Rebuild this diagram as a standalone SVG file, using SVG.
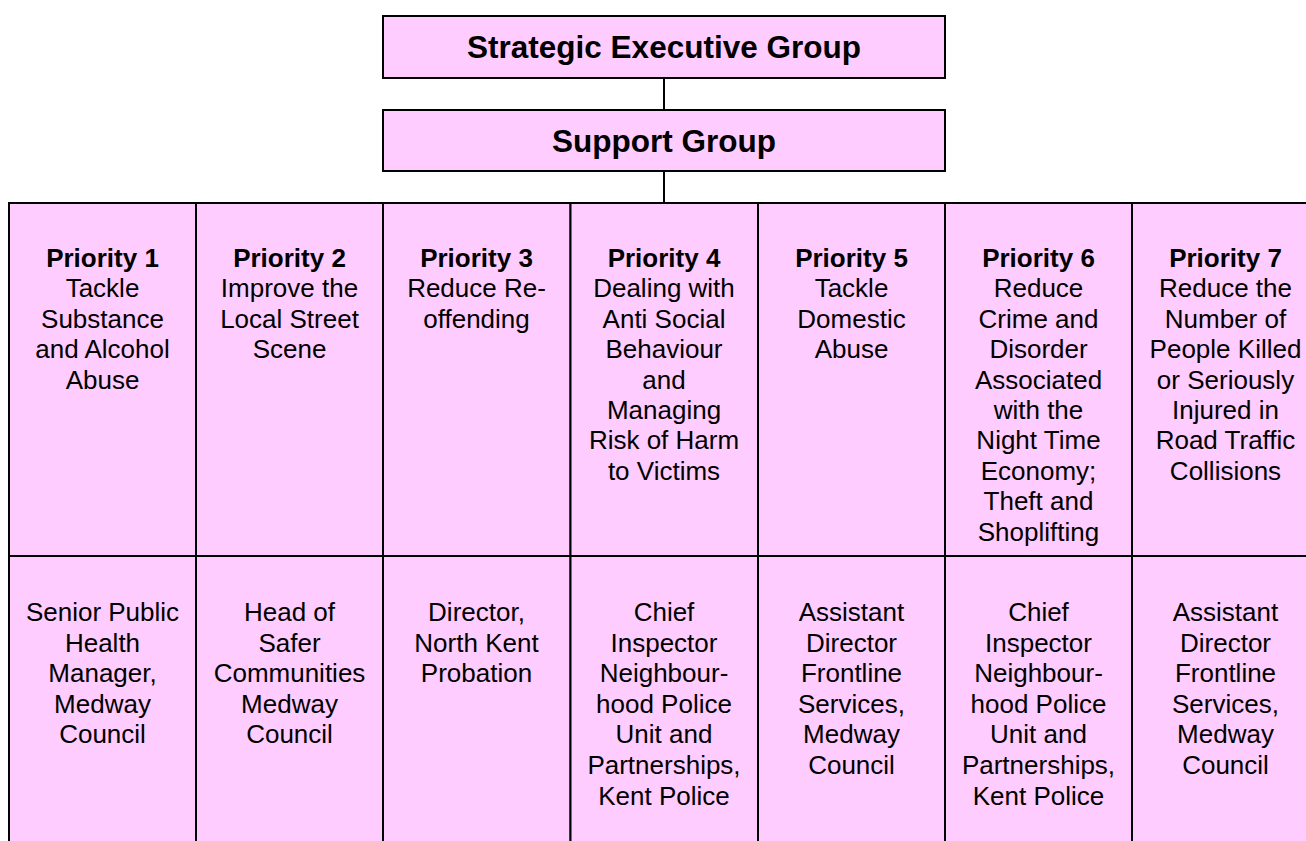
<svg xmlns="http://www.w3.org/2000/svg" width="1306" height="841" viewBox="0 0 1306 841">
<style>
.box{fill:#FFCCFF;stroke:#000;stroke-width:2}
.h{font-family:"Liberation Sans",Arial,sans-serif;font-weight:bold;font-size:31.5px;text-anchor:middle;fill:#000}
.t{font-family:"Liberation Sans",Arial,sans-serif;font-size:26px;text-anchor:middle;fill:#000}
.b{font-weight:bold}
.conn{stroke:#000;stroke-width:2;fill:none}
</style>
<rect width="1306" height="841" fill="#fff"/>
<g id="connectors">
<line class="conn" x1="664" y1="78" x2="664" y2="110"/>
<line class="conn" x1="664" y1="171" x2="664" y2="203"/>
</g>
<g id="strategic-executive-group">
<rect class="box" x="383" y="16" width="562" height="62"/>
<text class="h" x="664" y="58">Strategic Executive Group</text>
</g>
<g id="support-group">
<rect class="box" x="383" y="110" width="562" height="61"/>
<text class="h" x="664" y="152">Support Group</text>
</g>
<g id="priority-1">
<rect class="box" x="9" y="203" width="187" height="353"/>
<text class="t" x="102.5" y="267"><tspan class="b" x="102.5">Priority 1</tspan><tspan x="102.5" dy="30.4">Tackle</tspan><tspan x="102.5" dy="30.4">Substance</tspan><tspan x="102.5" dy="30.4">and Alcohol</tspan><tspan x="102.5" dy="30.4">Abuse</tspan></text>
</g>
<g id="priority-2">
<rect class="box" x="196" y="203" width="187" height="353"/>
<text class="t" x="289.5" y="267"><tspan class="b" x="289.5">Priority 2</tspan><tspan x="289.5" dy="30.4">Improve the</tspan><tspan x="289.5" dy="30.4">Local Street</tspan><tspan x="289.5" dy="30.4">Scene</tspan></text>
</g>
<g id="priority-3">
<rect class="box" x="383" y="203" width="187.5" height="353"/>
<text class="t" x="476.5" y="267"><tspan class="b" x="476.5">Priority 3</tspan><tspan x="476.5" dy="30.4">Reduce Re-</tspan><tspan x="476.5" dy="30.4">offending</tspan></text>
</g>
<g id="priority-4">
<rect class="box" x="570.5" y="203" width="187.5" height="353"/>
<text class="t" x="664" y="267"><tspan class="b" x="664">Priority 4</tspan><tspan x="664" dy="30.4">Dealing with</tspan><tspan x="664" dy="30.4">Anti Social</tspan><tspan x="664" dy="30.4">Behaviour</tspan><tspan x="664" dy="30.4">and</tspan><tspan x="664" dy="30.4">Managing</tspan><tspan x="664" dy="30.4">Risk of Harm</tspan><tspan x="664" dy="30.4">to Victims</tspan></text>
</g>
<g id="priority-5">
<rect class="box" x="758" y="203" width="187" height="353"/>
<text class="t" x="851.5" y="267"><tspan class="b" x="851.5">Priority 5</tspan><tspan x="851.5" dy="30.4">Tackle</tspan><tspan x="851.5" dy="30.4">Domestic</tspan><tspan x="851.5" dy="30.4">Abuse</tspan></text>
</g>
<g id="priority-6">
<rect class="box" x="945" y="203" width="187" height="353"/>
<text class="t" x="1038.5" y="267"><tspan class="b" x="1038.5">Priority 6</tspan><tspan x="1038.5" dy="30.4">Reduce</tspan><tspan x="1038.5" dy="30.4">Crime and</tspan><tspan x="1038.5" dy="30.4">Disorder</tspan><tspan x="1038.5" dy="30.4">Associated</tspan><tspan x="1038.5" dy="30.4">with the</tspan><tspan x="1038.5" dy="30.4">Night Time</tspan><tspan x="1038.5" dy="30.4">Economy;</tspan><tspan x="1038.5" dy="30.4">Theft and</tspan><tspan x="1038.5" dy="30.4">Shoplifting</tspan></text>
</g>
<g id="priority-7">
<rect class="box" x="1132" y="203" width="190" height="353"/>
<text class="t" x="1225.5" y="267"><tspan class="b" x="1225.5">Priority 7</tspan><tspan x="1225.5" dy="30.4">Reduce the</tspan><tspan x="1225.5" dy="30.4">Number of</tspan><tspan x="1225.5" dy="30.4">People Killed</tspan><tspan x="1225.5" dy="30.4">or Seriously</tspan><tspan x="1225.5" dy="30.4">Injured in</tspan><tspan x="1225.5" dy="30.4">Road Traffic</tspan><tspan x="1225.5" dy="30.4">Collisions</tspan></text>
</g>
<g id="lead-1">
<rect class="box" x="9" y="556" width="187" height="300"/>
<text class="t" x="102.5" y="621"><tspan x="102.5">Senior Public</tspan><tspan x="102.5" dy="30.6">Health</tspan><tspan x="102.5" dy="30.6">Manager,</tspan><tspan x="102.5" dy="30.6">Medway</tspan><tspan x="102.5" dy="30.6">Council</tspan></text>
</g>
<g id="lead-2">
<rect class="box" x="196" y="556" width="187" height="300"/>
<text class="t" x="289.5" y="621"><tspan x="289.5">Head of</tspan><tspan x="289.5" dy="30.6">Safer</tspan><tspan x="289.5" dy="30.6">Communities</tspan><tspan x="289.5" dy="30.6">Medway</tspan><tspan x="289.5" dy="30.6">Council</tspan></text>
</g>
<g id="lead-3">
<rect class="box" x="383" y="556" width="187.5" height="300"/>
<text class="t" x="476.5" y="621"><tspan x="476.5">Director,</tspan><tspan x="476.5" dy="30.6">North Kent</tspan><tspan x="476.5" dy="30.6">Probation</tspan></text>
</g>
<g id="lead-4">
<rect class="box" x="570.5" y="556" width="187.5" height="300"/>
<text class="t" x="664" y="621"><tspan x="664">Chief</tspan><tspan x="664" dy="30.6">Inspector</tspan><tspan x="664" dy="30.6">Neighbour-</tspan><tspan x="664" dy="30.6">hood Police</tspan><tspan x="664" dy="30.6">Unit and</tspan><tspan x="664" dy="30.6">Partnerships,</tspan><tspan x="664" dy="30.6">Kent Police</tspan></text>
</g>
<g id="lead-5">
<rect class="box" x="758" y="556" width="187" height="300"/>
<text class="t" x="851.5" y="621"><tspan x="851.5">Assistant</tspan><tspan x="851.5" dy="30.6">Director</tspan><tspan x="851.5" dy="30.6">Frontline</tspan><tspan x="851.5" dy="30.6">Services,</tspan><tspan x="851.5" dy="30.6">Medway</tspan><tspan x="851.5" dy="30.6">Council</tspan></text>
</g>
<g id="lead-6">
<rect class="box" x="945" y="556" width="187" height="300"/>
<text class="t" x="1038.5" y="621"><tspan x="1038.5">Chief</tspan><tspan x="1038.5" dy="30.6">Inspector</tspan><tspan x="1038.5" dy="30.6">Neighbour-</tspan><tspan x="1038.5" dy="30.6">hood Police</tspan><tspan x="1038.5" dy="30.6">Unit and</tspan><tspan x="1038.5" dy="30.6">Partnerships,</tspan><tspan x="1038.5" dy="30.6">Kent Police</tspan></text>
</g>
<g id="lead-7">
<rect class="box" x="1132" y="556" width="190" height="300"/>
<text class="t" x="1225.5" y="621"><tspan x="1225.5">Assistant</tspan><tspan x="1225.5" dy="30.6">Director</tspan><tspan x="1225.5" dy="30.6">Frontline</tspan><tspan x="1225.5" dy="30.6">Services,</tspan><tspan x="1225.5" dy="30.6">Medway</tspan><tspan x="1225.5" dy="30.6">Council</tspan></text>
</g>
</svg>
